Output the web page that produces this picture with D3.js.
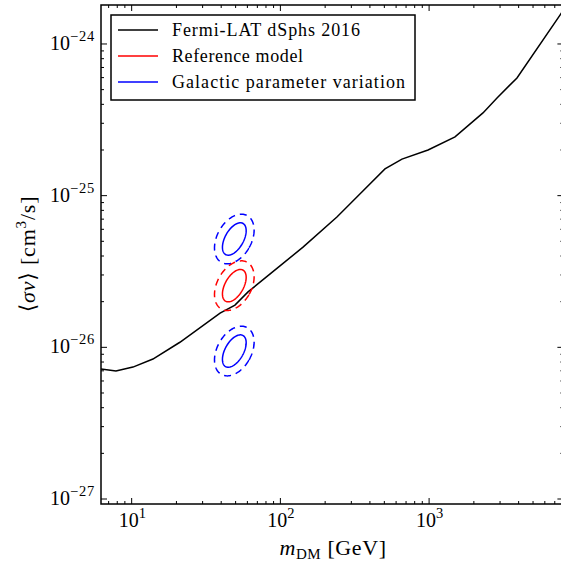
<!DOCTYPE html>
<html>
<head>
<meta charset="utf-8">
<script src="https://cdn.jsdelivr.net/npm/d3@7"></script>
<style>
  body { margin: 0; background: #fff; }
  text { font-family: "Liberation Serif", "DejaVu Serif", serif; fill: #000; }
</style>
</head>
<body>
<div id="chart"></div>
<script>
// Fermi-LAT dSphs 2016 limit curve (mass in GeV, <sigma v> in cm^3/s)
const fermiMass = [6.22, 7.84, 10.2, 13.9, 21.1, 39.3, 49.5, 60.6, 99.4, 142, 240, 327, 505, 657, 984, 1494, 2303, 2862, 3899, 7590, 9000];
const fermiSigv = [7.19e-27, 6.98e-27, 7.41e-27, 8.37e-27, 1.08e-26, 1.68e-26, 1.90e-26, 2.32e-26, 3.44e-26, 4.58e-26, 7.23e-26, 9.8e-26, 1.50e-25, 1.74e-25, 2.0e-25, 2.44e-25, 3.51e-25, 4.41e-25, 5.97e-25, 1.55e-24, 2.0e-24];

// contour ellipses: centre, semi-axes (decades), tilt from vertical (deg)
const ellName   = ["gal-high", "reference", "gal-low"];
const ellColor  = ["blue", "red", "blue"];
const ellMass   = [49, 49, 49];
const ellSigv   = [5.18e-26, 2.55e-26, 9.45e-27];
const ellMajor1 = [0.118, 0.118, 0.118];
const ellMinor1 = [0.062, 0.062, 0.062];
const ellMajor2 = [0.177, 0.177, 0.177];
const ellMinor2 = [0.115, 0.115, 0.115];
const ellTilt   = [30, 30, 30];

const legendLabels = ["Fermi-LAT dSphs 2016", "Reference model", "Galactic parameter variation"];
const legendColors = ["black", "red", "blue"];
const legendWidths = [188, 131, 233];

const W = 561, H = 563;
const pLeft = 101, pTop = 5, pBottom = 504, pRight = 563.4;

const svg = d3.select("#chart").append("svg")
    .attr("width", W).attr("height", H);

const x = d3.scaleLog().domain([6.22, 8000]).range([pLeft, pRight]);
const y = d3.scaleLog().domain([9.27e-28, 1.807e-24]).range([pBottom, pTop]);

svg.append("defs").append("clipPath").attr("id", "plotclip")
    .append("rect").attr("x", pLeft).attr("y", pTop)
    .attr("width", pRight - pLeft).attr("height", pBottom - pTop);

const plot = svg.append("g").attr("clip-path", "url(#plotclip)");

// Fermi curve
const line = d3.line().x(d => x(d[0])).y(d => y(d[1]));
plot.append("path")
    .datum(fermiMass.map((m, i) => [m, fermiSigv[i]]))
    .attr("d", line)
    .attr("fill", "none").attr("stroke", "black").attr("stroke-width", 1.5);

// ellipses drawn in log space
function ellipsePts(i, a, b) {
    const cx = Math.log10(ellMass[i]), cy = Math.log10(ellSigv[i]);
    const th = ellTilt[i] * Math.PI / 180;
    const pts = [];
    for (let k = 0; k <= 120; k++) {
        const t = k / 120 * 2 * Math.PI;
        const u = b * Math.cos(t), v = a * Math.sin(t);
        const dx = u * Math.cos(th) + v * Math.sin(th);
        const dy = -u * Math.sin(th) + v * Math.cos(th);
        pts.push([Math.pow(10, cx + dx), Math.pow(10, cy + dy)]);
    }
    return pts;
}

ellName.forEach((n, i) => {
    plot.append("path")
        .datum(ellipsePts(i, ellMajor1[i], ellMinor1[i]))
        .attr("d", line)
        .attr("fill", "none").attr("stroke", ellColor[i]).attr("stroke-width", 1.5);
    plot.append("path")
        .datum(ellipsePts(i, ellMajor2[i], ellMinor2[i]))
        .attr("d", line)
        .attr("fill", "none").attr("stroke", ellColor[i]).attr("stroke-width", 1.5)
        .attr("stroke-dasharray", "7,5");
});

// frame
svg.append("rect").attr("x", pLeft).attr("y", pTop)
    .attr("width", pRight - pLeft).attr("height", pBottom - pTop)
    .attr("fill", "none").attr("stroke", "black").attr("stroke-width", 1.5);

// ticks, pointing inwards on all sides
const xMajor = [10, 100, 1000];
const xMinor = [];
[1, 10, 100, 1000].forEach(p => { for (let k = 2; k <= 9; k++) { const v = k * p; if (v > 6.22 && v < 8000 && !xMajor.includes(v)) xMinor.push(v); } });
const yMajor = [1e-27, 1e-26, 1e-25, 1e-24];
const yMinor = [];
[1e-28, 1e-27, 1e-26, 1e-25, 1e-24].forEach(p => { for (let k = 2; k <= 9; k++) { const v = k * p; if (v > 9.27e-28 && v < 1.807e-24) yMinor.push(v); } });

const tk = svg.append("g").attr("stroke", "black").attr("stroke-width", 1);
function xt(vals, len) {
    vals.forEach(v => {
        tk.append("line").attr("x1", x(v)).attr("x2", x(v)).attr("y1", pBottom).attr("y2", pBottom - len);
        tk.append("line").attr("x1", x(v)).attr("x2", x(v)).attr("y1", pTop).attr("y2", pTop + len);
    });
}
function yt(vals, len) {
    vals.forEach(v => {
        tk.append("line").attr("y1", y(v)).attr("y2", y(v)).attr("x1", pLeft).attr("x2", pLeft + len);
        tk.append("line").attr("y1", y(v)).attr("y2", y(v)).attr("x1", pRight).attr("x2", pRight - len);
    });
}
xt(xMajor, 6); xt(xMinor, 3);
yt(yMajor, 6); yt(yMinor, 3);

// tick labels
function pow10Label(g, v) {
    const e = Math.round(Math.log10(v));
    g.append("tspan").text("10");
    g.append("tspan").attr("dy", -9).attr("font-size", 14.5).attr("letter-spacing", 0.8)
        .text(e < 0 ? "\u2212" + (-e) : String(e));
}
xMajor.forEach(v => {
    const t = svg.append("text").attr("x", x(v) + 1).attr("y", 527)
        .attr("text-anchor", "middle").attr("font-size", 20);
    pow10Label(t, v);
});
yMajor.forEach(v => {
    const t = svg.append("text").attr("x", 95).attr("y", y(v) + 6)
        .attr("text-anchor", "end").attr("font-size", 20);
    pow10Label(t, v);
});

// axis labels
const xl = svg.append("text").attr("x", 333).attr("y", 555)
    .attr("text-anchor", "middle").attr("font-size", 22).attr("letter-spacing", 0.6);
xl.append("tspan").attr("font-style", "italic").text("m");
xl.append("tspan").attr("dy", 4).attr("font-size", 15).text("DM");
xl.append("tspan").attr("dy", -4).text(" [GeV]");

const yl = svg.append("text")
    .attr("transform", "translate(35,254) rotate(-90)")
    .attr("text-anchor", "middle").attr("font-size", 22).attr("letter-spacing", 0.8);
yl.append("tspan").text("\u27E8");
yl.append("tspan").attr("font-style", "italic").text("\u03C3v");
yl.append("tspan").text("\u27E9 [cm");
yl.append("tspan").attr("dy", -9).attr("font-size", 15).text("3");
yl.append("tspan").attr("dy", 9).text("/s]");

// legend
const lg = svg.append("g");
lg.append("rect").attr("x", 111).attr("y", 15).attr("width", 304).attr("height", 85)
    .attr("fill", "white").attr("stroke", "black").attr("stroke-width", 1.5);
legendLabels.forEach((lab, i) => {
    const yy = 30 + i * 26;
    lg.append("line").attr("x1", 118).attr("x2", 158).attr("y1", yy).attr("y2", yy)
        .attr("stroke", legendColors[i]).attr("stroke-width", 1.5);
    lg.append("text").attr("x", 172).attr("y", yy + 6).attr("font-size", 18)
        .attr("textLength", legendWidths[i]).attr("lengthAdjust", "spacing").text(lab);
});
</script>
</body>
</html>
